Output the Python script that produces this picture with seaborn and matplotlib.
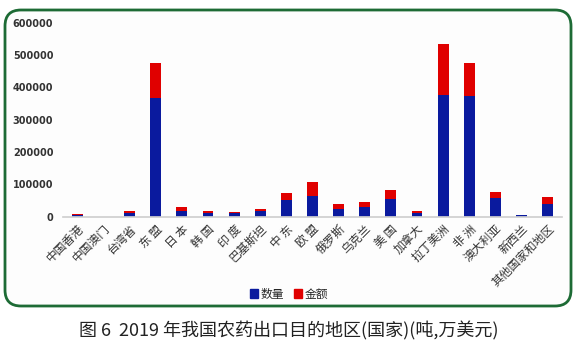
import numpy as np
import seaborn as sns
import pandas as pd
import matplotlib.pyplot as plt
from matplotlib.patches import FancyBboxPatch, Patch

# 2019年我国农药出口目的地区 (吨, 万美元)
regions = ["中国香港", "中国澳门", "台湾省", "东 盟", "日 本", "韩 国", "印 度", "巴基斯坦",
           "中 东", "欧 盟", "俄罗斯", "乌克兰", "美 国", "加拿大", "拉丁美洲", "非 洲",
           "澳大利亚", "新西兰", "其他国家和地区"]
quantity = [5000, 300, 12000, 368000, 18500, 12000, 10000, 17500, 51000, 64000, 24000,
            31000, 54500, 12000, 377000, 372000, 58500, 4000, 39000]
amount = [3000, 200, 4500, 106000, 10500, 5500, 4500, 7000, 23000, 42000, 14000,
          14000, 29500, 5500, 157000, 102000, 18500, 2500, 21000]

yticks = [0, 100000, 200000, 300000, 400000, 500000, 600000]
legend_labels = ["数量", "金额"]
title = "图 6  2019 年我国农药出口目的地区(国家)(吨,万美元)"

blue = "#0a1a9e"
red = "#e00000"

df = pd.DataFrame({"region": regions, "quantity": quantity, "amount": amount})
df["total"] = df["quantity"] + df["amount"]

sns.set_theme(style="white")
plt.rcParams['font.family'] = ['Noto Sans CJK SC', 'DejaVu Sans']

fig = plt.figure(figsize=(5.78, 3.51), dpi=100)

# background frame with rounded green border
bg = fig.add_axes([0, 0, 1, 1])
bg.set_xlim(0, 578)
bg.set_ylim(351, 0)
bg.axis("off")
bg.add_patch(FancyBboxPatch((5, 10), 566, 296, boxstyle="round,pad=0,rounding_size=16",
                            facecolor="#fdfdfd", edgecolor="#1d6b35", linewidth=2))

ax = fig.add_axes([63 / 578, 1 - 216.7 / 351, (562 - 63) / 578, (216.7 - 22.7) / 351])
ax.patch.set_alpha(0)
sns.barplot(data=df, x="region", y="total", color=red, width=0.42, saturation=1,
            linewidth=0, ax=ax)
sns.barplot(data=df, x="region", y="quantity", color=blue, width=0.42, saturation=1,
            linewidth=0, ax=ax)

ax.set_ylim(0, 600000)
ax.set_yticks(yticks)
ax.set_yticklabels([str(v) for v in yticks], fontsize=7, color="#333333", fontweight="bold",
                   family="DejaVu Sans")
ax.set_xlabel("")
ax.set_ylabel("")
ax.set_xlim(-0.55, len(regions) - 0.45)
for s in ["top", "right", "left"]:
    ax.spines[s].set_visible(False)
ax.spines["bottom"].set_color("#d0d0d0")
ax.tick_params(axis="both", length=0, pad=7)
ax.tick_params(axis="x", pad=4)
plt.setp(ax.get_xticklabels(), rotation=45, ha="right", rotation_mode="anchor",
         fontsize=8.5, color="#333333")

handles = [Patch(color=blue), Patch(color=red)]
fig.legend(handles, legend_labels, loc="center", bbox_to_anchor=(0.5, 1 - 294 / 351),
           ncol=2, frameon=False, fontsize=8.5, handlelength=0.7, handleheight=0.7,
           handletextpad=0.2, columnspacing=0.8)

fig.text(0.5, 1 - 331 / 351, title, ha="center", va="center", fontsize=13, color="#222222")

plt.savefig("out.png", dpi=100)
